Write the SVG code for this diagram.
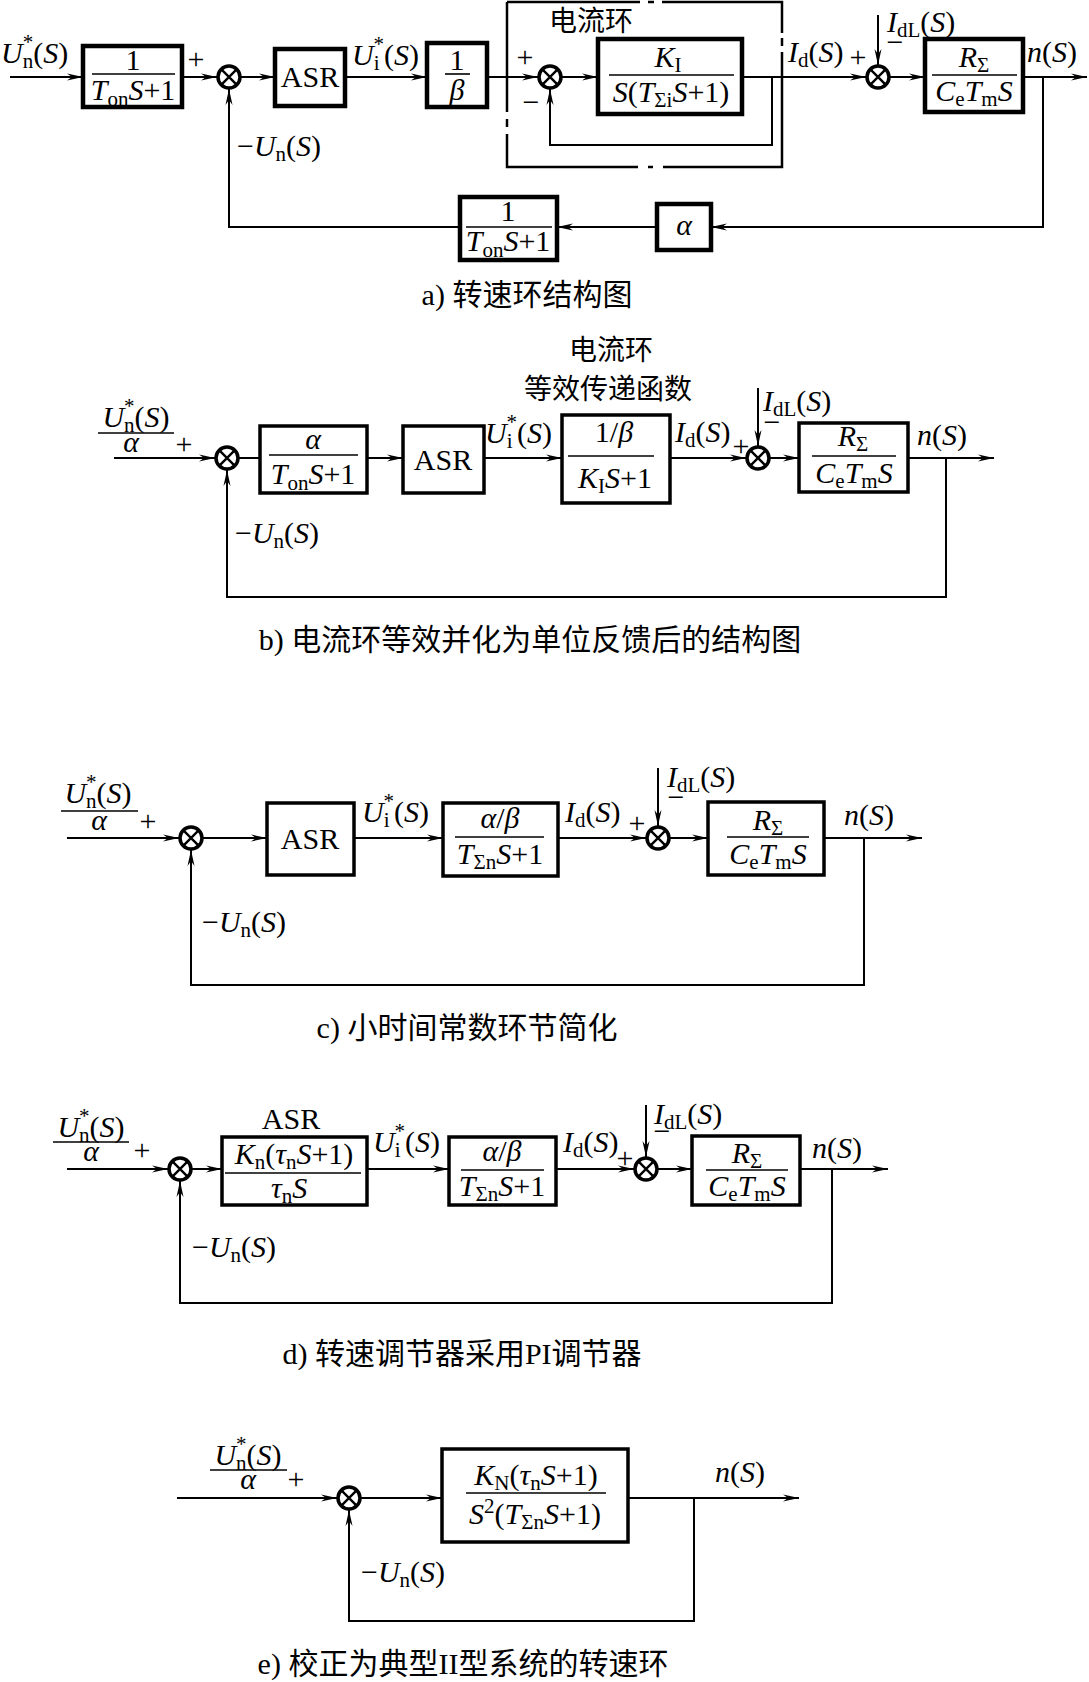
<svg xmlns="http://www.w3.org/2000/svg" width="1089" height="1682" viewBox="0 0 1089 1682">
<style>
.m{font-family:"Liberation Serif","Noto Sans CJK SC",serif;font-size:30px;fill:#000}
.i{font-style:italic}
.b{font-size:21px}
.c{text-anchor:middle}
.cn{font-family:"Noto Sans CJK SC",sans-serif;font-size:28px;fill:#000}
.cap{font-family:"Liberation Serif","Noto Sans CJK SC",serif;font-size:30px;fill:#000;text-anchor:middle}
.bx{fill:#fff;stroke:#000;stroke-width:3.5}
.bxa{fill:#fff;stroke:#000;stroke-width:4.5}
.ln{fill:none;stroke:#000;stroke-width:2}
.fb{fill:none;stroke:#000;stroke-width:2}
.bar{stroke:#000;stroke-width:1.6}
.ar{marker-end:url(#ar)}
.dash{fill:none;stroke:#000;stroke-width:2.5}
</style>
<defs>
<marker id="ar" markerUnits="userSpaceOnUse" markerWidth="17" markerHeight="8" refX="16" refY="4" orient="auto" viewBox="0 0 17 8"><path d="M0,0.5 L16,4 L0,7.5 L5,4 Z" fill="#000"/></marker>
<g id="sj"><circle r="11" fill="#fff" stroke="#000" stroke-width="3.5"/><path d="M-7.6,-7.6 L7.6,7.6 M-7.6,7.6 L7.6,-7.6" stroke="#000" stroke-width="2.4"/></g>
</defs>

<!-- ============ connectors ============ -->
<g id="connectors">
<!-- panel a -->
<path class="ln ar" d="M10,77 H83"/>
<path class="ln ar" d="M182,77 H217"/>
<path class="ln ar" d="M241,77 H275"/>
<path class="ln ar" d="M345,77 H427"/>
<path class="ln ar" d="M487,77 H538"/>
<path class="ln ar" d="M562,77 H598"/>
<path class="ln ar" d="M742,77 H866"/>
<path class="ln ar" d="M772,77 V145 H550 V89"/>
<path class="ln ar" d="M878,15 V65"/>
<path class="ln ar" d="M890,77 H925"/>
<path class="ln ar" d="M1023,77 H1087"/>
<path class="fb ar" d="M1043,77 V227 H711"/>
<path class="fb ar" d="M657,227 H557"/>
<path class="fb ar" d="M460,227 H229 V89"/>
<!-- dashed current loop frame -->
<path class="dash" d="M507,2 V112 M507,119 V127 M507,134 V167 H638 M648,167 H653 M663,167 H782 V52 M782,46 V38 M782,33 V2 H662 M654,2 H648 M640,2 H507"/>
<!-- panel b -->
<path class="ln ar" d="M114,458 H215"/>
<path class="ln" d="M239,458 H260"/>
<path class="ln ar" d="M367,458 H403"/>
<path class="ln ar" d="M484,458 H562"/>
<path class="ln ar" d="M670,458 H746"/>
<path class="ln ar" d="M758,388 V446"/>
<path class="ln ar" d="M770,458 H799"/>
<path class="ln ar" d="M908,458 H994"/>
<path class="fb ar" d="M946,458 V597 H227 V470"/>
<!-- panel c -->
<path class="ln ar" d="M67,838 H179"/>
<path class="ln ar" d="M203,838 H267"/>
<path class="ln ar" d="M354,838 H443"/>
<path class="ln ar" d="M558,838 H646"/>
<path class="ln ar" d="M658,768 V826"/>
<path class="ln ar" d="M670,838 H708"/>
<path class="ln ar" d="M824,838 H922"/>
<path class="fb ar" d="M864,838 V985 H191 V850"/>
<!-- panel d -->
<path class="ln ar" d="M67,1169 H168"/>
<path class="ln ar" d="M192,1169 H222"/>
<path class="ln ar" d="M367,1169 H449"/>
<path class="ln ar" d="M556,1169 H634"/>
<path class="ln ar" d="M646,1105 V1157"/>
<path class="ln ar" d="M658,1169 H692"/>
<path class="ln ar" d="M800,1169 H888"/>
<path class="fb ar" d="M832,1169 V1303 H180 V1181"/>
<!-- panel e -->
<path class="ln ar" d="M177,1498 H337"/>
<path class="ln ar" d="M361,1498 H442"/>
<path class="ln ar" d="M628,1498 H799"/>
<path class="fb ar" d="M694,1498 V1621 H349 V1510"/>
</g>

<!-- ============ panel a ============ -->
<g id="a-input"><text class="m" x="1" y="63"><tspan class="i">U</tspan><tspan class="b" dy="5">n</tspan><tspan class="b" dx="-10.5" dy="-19">*</tspan><tspan dy="14">(</tspan><tspan class="i">S</tspan>)</text></g>
<g id="a-filter">
<rect class="bxa" x="83" y="46" width="99" height="61"/>
<text class="m c" x="133" y="70">1</text>
<line class="bar" x1="92" y1="74" x2="175" y2="74"/>
<text class="m c" x="133" y="100"><tspan class="i">T</tspan><tspan class="b" dy="6">on</tspan><tspan class="i" dy="-6">S</tspan>+1</text>
</g>
<text class="m c" x="196" y="69">+</text>
<g id="a-sum1"><use href="#sj" x="229" y="77"/></g>
<g id="a-asr"><rect class="bxa" x="275" y="49" width="70" height="57"/><text class="m c" x="310" y="87">ASR</text></g>
<g id="a-ui"><text class="m" x="352" y="65"><tspan class="i">U</tspan><tspan class="b" dy="5">i</tspan><tspan class="b" dx="-6" dy="-19">*</tspan><tspan dy="14">(</tspan><tspan class="i">S</tspan>)</text></g>
<g id="a-beta">
<rect class="bxa" x="427" y="43" width="60" height="64"/>
<text class="m c" x="457" y="70">1</text>
<line class="bar" x1="445" y1="74" x2="470" y2="74"/>
<text class="m c i" x="457" y="100">β</text>
</g>
<g id="a-loop-label"><text class="cn" x="549" y="31">电流环</text></g>
<text class="m c" x="525" y="67">+</text>
<text class="m c" x="531" y="112">−</text>
<g id="a-sum2"><use href="#sj" x="550" y="77"/></g>
<g id="a-ki">
<rect class="bxa" x="598" y="39" width="144" height="75"/>
<text class="m c" x="668" y="67"><tspan class="i">K</tspan><tspan class="b" dy="5">I</tspan></text>
<line class="bar" x1="609" y1="75" x2="734" y2="75"/>
<text class="m c" x="671" y="102"><tspan class="i">S</tspan>(<tspan class="i">T</tspan><tspan class="b" dy="5">Σi</tspan><tspan class="i" dy="-5">S</tspan>+1)</text>
</g>
<g id="a-id"><text class="m" x="788" y="62"><tspan class="i">I</tspan><tspan class="b" dy="5">d</tspan><tspan dy="-5">(</tspan><tspan class="i">S</tspan>)</text></g>
<text class="m c" x="858" y="67">+</text>
<g id="a-sum3"><use href="#sj" x="878" y="77"/></g>
<g id="a-idl"><text class="m" x="887" y="32"><tspan class="i">I</tspan><tspan class="b" dy="5">dL</tspan><tspan dy="-5">(</tspan><tspan class="i">S</tspan>)</text></g>
<text class="m c" x="895" y="52">−</text>
<g id="a-plant">
<rect class="bxa" x="925" y="39" width="98" height="73"/>
<text class="m c" x="974" y="67"><tspan class="i">R</tspan><tspan class="b" dy="5">Σ</tspan></text>
<line class="bar" x1="932" y1="75" x2="1017" y2="75"/>
<text class="m c" x="974" y="101"><tspan class="i">C</tspan><tspan class="b" dy="5">e</tspan><tspan class="i" dy="-5">T</tspan><tspan class="b" dy="5">m</tspan><tspan class="i" dy="-5">S</tspan></text>
</g>
<g id="a-n"><text class="m" x="1027" y="62"><tspan class="i">n</tspan>(<tspan class="i">S</tspan>)</text></g>
<g id="a-alpha"><rect class="bxa" x="657" y="204" width="54" height="46"/><text class="m c i" x="684" y="235">α</text></g>
<g id="a-fbfilter">
<rect class="bxa" x="460" y="197" width="97" height="63"/>
<text class="m c" x="508" y="221">1</text>
<line class="bar" x1="466" y1="227" x2="552" y2="227"/>
<text class="m c" x="508" y="251"><tspan class="i">T</tspan><tspan class="b" dy="6">on</tspan><tspan class="i" dy="-6">S</tspan>+1</text>
</g>
<g id="a-fb"><text class="m" x="237" y="156">−<tspan class="i">U</tspan><tspan class="b" dy="5">n</tspan><tspan dy="-5">(</tspan><tspan class="i">S</tspan>)</text></g>
<text class="cap" x="527" y="305">a) 转速环结构图</text>

<!-- ============ panel b ============ -->
<g id="b-note"><text class="cn c" x="611" y="360">电流环</text><text class="cn c" x="608" y="399">等效传递函数</text></g>
<g id="b-input">
<text class="m c" x="136" y="427"><tspan class="i">U</tspan><tspan class="b" dy="5">n</tspan><tspan class="b" dx="-10.5" dy="-19">*</tspan><tspan dy="14">(</tspan><tspan class="i">S</tspan>)</text>
<line class="bar" x1="98" y1="433" x2="174" y2="433"/>
<text class="m c i" x="131" y="452">α</text>
</g>
<text class="m c" x="184" y="454">+</text>
<g id="b-sum1"><use href="#sj" x="227" y="458"/></g>
<g id="b-filter">
<rect class="bx" x="260" y="426" width="107" height="67"/>
<text class="m c i" x="313" y="449">α</text>
<line class="bar" x1="269" y1="455" x2="358" y2="455"/>
<text class="m c" x="313" y="484"><tspan class="i">T</tspan><tspan class="b" dy="6">on</tspan><tspan class="i" dy="-6">S</tspan>+1</text>
</g>
<g id="b-asr"><rect class="bx" x="403" y="426" width="81" height="67"/><text class="m c" x="443" y="470">ASR</text></g>
<g id="b-ui"><text class="m" x="485" y="443"><tspan class="i">U</tspan><tspan class="b" dy="5">i</tspan><tspan class="b" dx="-6" dy="-19">*</tspan><tspan dy="14">(</tspan><tspan class="i">S</tspan>)</text></g>
<g id="b-current">
<rect class="bx" x="562" y="415" width="108" height="88"/>
<text class="m c" x="614" y="442">1/<tspan class="i">β</tspan></text>
<line class="bar" x1="568" y1="456" x2="654" y2="456"/>
<text class="m c" x="615" y="488"><tspan class="i">K</tspan><tspan class="b" dy="5">I</tspan><tspan class="i" dy="-5">S</tspan>+1</text>
</g>
<g id="b-id"><text class="m" x="675" y="442"><tspan class="i">I</tspan><tspan class="b" dy="5">d</tspan><tspan dy="-5">(</tspan><tspan class="i">S</tspan>)</text></g>
<text class="m c" x="741" y="456">+</text>
<g id="b-sum2"><use href="#sj" x="758" y="458"/></g>
<g id="b-idl"><text class="m" x="763" y="411"><tspan class="i">I</tspan><tspan class="b" dy="5">dL</tspan><tspan dy="-5">(</tspan><tspan class="i">S</tspan>)</text></g>
<text class="m c" x="772" y="432">−</text>
<g id="b-plant">
<rect class="bx" x="799" y="423" width="109" height="69"/>
<text class="m c" x="853" y="446"><tspan class="i">R</tspan><tspan class="b" dy="5">Σ</tspan></text>
<line class="bar" x1="812" y1="456" x2="896" y2="456"/>
<text class="m c" x="854" y="483"><tspan class="i">C</tspan><tspan class="b" dy="5">e</tspan><tspan class="i" dy="-5">T</tspan><tspan class="b" dy="5">m</tspan><tspan class="i" dy="-5">S</tspan></text>
</g>
<g id="b-n"><text class="m" x="917" y="445"><tspan class="i">n</tspan>(<tspan class="i">S</tspan>)</text></g>
<g id="b-fb"><text class="m" x="235" y="543">−<tspan class="i">U</tspan><tspan class="b" dy="5">n</tspan><tspan dy="-5">(</tspan><tspan class="i">S</tspan>)</text></g>
<text class="cap" x="530" y="650">b) 电流环等效并化为单位反馈后的结构图</text>

<!-- ============ panel c ============ -->
<g id="c-input">
<text class="m c" x="98" y="803"><tspan class="i">U</tspan><tspan class="b" dy="5">n</tspan><tspan class="b" dx="-10.5" dy="-19">*</tspan><tspan dy="14">(</tspan><tspan class="i">S</tspan>)</text>
<line class="bar" x1="61" y1="811" x2="138" y2="811"/>
<text class="m c i" x="99" y="830">α</text>
</g>
<text class="m c" x="148" y="831">+</text>
<g id="c-sum1"><use href="#sj" x="191" y="838"/></g>
<g id="c-asr"><rect class="bx" x="267" y="803" width="87" height="72"/><text class="m c" x="310" y="849">ASR</text></g>
<g id="c-ui"><text class="m" x="362" y="822"><tspan class="i">U</tspan><tspan class="b" dy="5">i</tspan><tspan class="b" dx="-6" dy="-19">*</tspan><tspan dy="14">(</tspan><tspan class="i">S</tspan>)</text></g>
<g id="c-current">
<rect class="bx" x="443" y="803" width="115" height="73"/>
<text class="m c" x="500" y="828"><tspan class="i">α</tspan>/<tspan class="i">β</tspan></text>
<line class="bar" x1="455" y1="837" x2="544" y2="837"/>
<text class="m c" x="500" y="864"><tspan class="i">T</tspan><tspan class="b" dy="5">Σn</tspan><tspan class="i" dy="-5">S</tspan>+1</text>
</g>
<g id="c-id"><text class="m" x="565" y="822"><tspan class="i">I</tspan><tspan class="b" dy="5">d</tspan><tspan dy="-5">(</tspan><tspan class="i">S</tspan>)</text></g>
<text class="m c" x="637" y="833">+</text>
<g id="c-sum2"><use href="#sj" x="658" y="838"/></g>
<g id="c-idl"><text class="m" x="667" y="787"><tspan class="i">I</tspan><tspan class="b" dy="5">dL</tspan><tspan dy="-5">(</tspan><tspan class="i">S</tspan>)</text></g>
<text class="m c" x="676" y="807">−</text>
<g id="c-plant">
<rect class="bx" x="708" y="802" width="116" height="73"/>
<text class="m c" x="768" y="830"><tspan class="i">R</tspan><tspan class="b" dy="5">Σ</tspan></text>
<line class="bar" x1="727" y1="837" x2="809" y2="837"/>
<text class="m c" x="768" y="864"><tspan class="i">C</tspan><tspan class="b" dy="5">e</tspan><tspan class="i" dy="-5">T</tspan><tspan class="b" dy="5">m</tspan><tspan class="i" dy="-5">S</tspan></text>
</g>
<g id="c-n"><text class="m" x="844" y="825"><tspan class="i">n</tspan>(<tspan class="i">S</tspan>)</text></g>
<g id="c-fb"><text class="m" x="202" y="932">−<tspan class="i">U</tspan><tspan class="b" dy="5">n</tspan><tspan dy="-5">(</tspan><tspan class="i">S</tspan>)</text></g>
<text class="cap" x="467" y="1038">c) 小时间常数环节简化</text>

<!-- ============ panel d ============ -->
<g id="d-input">
<text class="m c" x="91" y="1137"><tspan class="i">U</tspan><tspan class="b" dy="5">n</tspan><tspan class="b" dx="-10.5" dy="-19">*</tspan><tspan dy="14">(</tspan><tspan class="i">S</tspan>)</text>
<line class="bar" x1="53" y1="1142" x2="129" y2="1142"/>
<text class="m c i" x="91" y="1161">α</text>
</g>
<text class="m c" x="142" y="1160">+</text>
<g id="d-sum1"><use href="#sj" x="180" y="1169"/></g>
<g id="d-asr">
<text class="m c" x="291" y="1129">ASR</text>
<rect class="bx" x="222" y="1137" width="145" height="68"/>
<text class="m c" x="294" y="1164"><tspan class="i">K</tspan><tspan class="b" dy="5">n</tspan><tspan dy="-5">(</tspan><tspan class="i">τ</tspan><tspan class="b" dy="5">n</tspan><tspan class="i" dy="-5">S</tspan>+1)</text>
<line class="bar" x1="225" y1="1173" x2="361" y2="1173"/>
<text class="m c" x="289" y="1198"><tspan class="i">τ</tspan><tspan class="b" dy="5">n</tspan><tspan class="i" dy="-5">S</tspan></text>
</g>
<g id="d-ui"><text class="m" x="373" y="1152"><tspan class="i">U</tspan><tspan class="b" dy="5">i</tspan><tspan class="b" dx="-6" dy="-19">*</tspan><tspan dy="14">(</tspan><tspan class="i">S</tspan>)</text></g>
<g id="d-current">
<rect class="bx" x="449" y="1137" width="107" height="68"/>
<text class="m c" x="502" y="1161"><tspan class="i">α</tspan>/<tspan class="i">β</tspan></text>
<line class="bar" x1="461" y1="1170" x2="544" y2="1170"/>
<text class="m c" x="502" y="1196"><tspan class="i">T</tspan><tspan class="b" dy="5">Σn</tspan><tspan class="i" dy="-5">S</tspan>+1</text>
</g>
<g id="d-id"><text class="m" x="563" y="1152"><tspan class="i">I</tspan><tspan class="b" dy="5">d</tspan><tspan dy="-5">(</tspan><tspan class="i">S</tspan>)</text></g>
<text class="m c" x="625" y="1168">+</text>
<g id="d-sum2"><use href="#sj" x="646" y="1169"/></g>
<g id="d-idl"><text class="m" x="654" y="1124"><tspan class="i">I</tspan><tspan class="b" dy="5">dL</tspan><tspan dy="-5">(</tspan><tspan class="i">S</tspan>)</text></g>
<text class="m c" x="662" y="1141">−</text>
<g id="d-plant">
<rect class="bx" x="692" y="1136" width="108" height="69"/>
<text class="m c" x="747" y="1163"><tspan class="i">R</tspan><tspan class="b" dy="5">Σ</tspan></text>
<line class="bar" x1="706" y1="1170" x2="788" y2="1170"/>
<text class="m c" x="747" y="1196"><tspan class="i">C</tspan><tspan class="b" dy="5">e</tspan><tspan class="i" dy="-5">T</tspan><tspan class="b" dy="5">m</tspan><tspan class="i" dy="-5">S</tspan></text>
</g>
<g id="d-n"><text class="m" x="812" y="1158"><tspan class="i">n</tspan>(<tspan class="i">S</tspan>)</text></g>
<g id="d-fb"><text class="m" x="192" y="1257">−<tspan class="i">U</tspan><tspan class="b" dy="5">n</tspan><tspan dy="-5">(</tspan><tspan class="i">S</tspan>)</text></g>
<text class="cap" x="462" y="1364">d) 转速调节器采用PI调节器</text>

<!-- ============ panel e ============ -->
<g id="e-input">
<text class="m c" x="248" y="1465"><tspan class="i">U</tspan><tspan class="b" dy="5">n</tspan><tspan class="b" dx="-10.5" dy="-19">*</tspan><tspan dy="14">(</tspan><tspan class="i">S</tspan>)</text>
<line class="bar" x1="210" y1="1470" x2="287" y2="1470"/>
<text class="m c i" x="248" y="1489">α</text>
</g>
<text class="m c" x="296" y="1489">+</text>
<g id="e-sum"><use href="#sj" x="349" y="1498"/></g>
<g id="e-open">
<rect class="bx" x="442" y="1449" width="186" height="93"/>
<text class="m c" x="536" y="1485"><tspan class="i">K</tspan><tspan class="b" dy="5">N</tspan><tspan dy="-5">(</tspan><tspan class="i">τ</tspan><tspan class="b" dy="5">n</tspan><tspan class="i" dy="-5">S</tspan>+1)</text>
<line class="bar" x1="466" y1="1493" x2="606" y2="1493"/>
<text class="m c" x="535" y="1524"><tspan class="i">S</tspan><tspan class="b" dy="-11">2</tspan><tspan dy="11">(</tspan><tspan class="i">T</tspan><tspan class="b" dy="5">Σn</tspan><tspan class="i" dy="-5">S</tspan>+1)</text>
</g>
<g id="e-n"><text class="m" x="715" y="1482"><tspan class="i">n</tspan>(<tspan class="i">S</tspan>)</text></g>
<g id="e-fb"><text class="m" x="361" y="1582">−<tspan class="i">U</tspan><tspan class="b" dy="5">n</tspan><tspan dy="-5">(</tspan><tspan class="i">S</tspan>)</text></g>
<text class="cap" x="463" y="1674">e) 校正为典型II型系统的转速环</text>
</svg>
